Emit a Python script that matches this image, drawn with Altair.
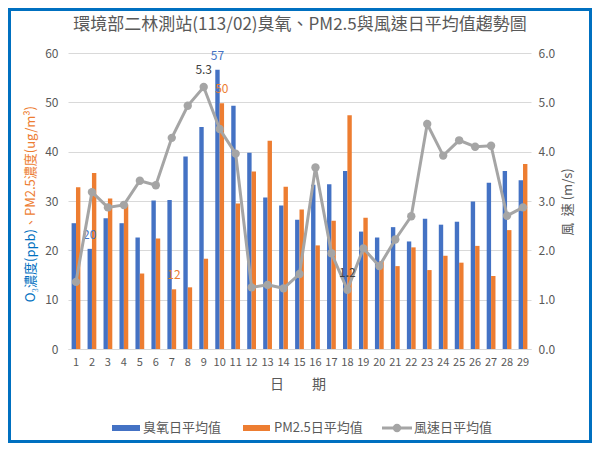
import altair as alt
import pandas as pd

days = list(range(1, 30))
o3 = [25.5, 20.3, 26.5, 25.5, 22.6, 30.1, 30.2, 39.0, 45.0, 56.6, 49.3, 39.8, 30.7, 29.1, 26.2,
      33.3, 33.4, 36.1, 23.8, 22.6, 24.7, 21.8, 26.4, 25.2, 25.8, 29.9, 33.7, 36.1, 34.2]
pm25 = [32.8, 35.7, 30.5, 29.3, 15.3, 22.4, 12.1, 12.5, 18.3, 49.8, 29.5, 36.0, 42.2, 32.9, 28.3,
        21.0, 26.0, 47.4, 26.6, 17.8, 16.8, 20.6, 16.0, 18.9, 17.5, 20.9, 14.8, 24.1, 37.5]
wind = [1.36, 3.18, 2.87, 2.92, 3.41, 3.32, 4.28, 4.93, 5.31, 4.46, 3.96, 1.25, 1.30, 1.23, 1.52,
        3.68, 1.94, 1.20, 2.04, 1.68, 2.22, 2.69, 4.56, 3.92, 4.23, 4.10, 4.12, 2.70, 2.87]

series_names = ["臭氧日平均值", "PM2.5日平均值", "風速日平均值"]
title_text = "環境部二林測站(113/02)臭氧、PM2.5與風速日平均值趨勢圖"
x_title = "日　　期"
y_left_title_a = "O₃濃度(ppb)"
y_left_title_b = "、PM2.5濃度(ug/m³)"
y_right_title = "風\u2002速 (m/s)"

BLUE = "#4472C4"
ORANGE = "#ED7D31"
GRAY = "#A5A5A5"
TXT = "#595959"
FONT = "Noto Sans CJK TC"

bars_df = pd.DataFrame({
    "day": days * 2,
    "series": [series_names[0]] * len(days) + [series_names[1]] * len(days),
    "value": o3 + pm25,
})
wind_df = pd.DataFrame({"day": days, "wind": wind})

# min / max labels
lab_rows = []
for name, arr in [(series_names[0], o3), (series_names[1], pm25)]:
    s = pd.Series(arr, index=days)
    for d in [s.idxmax(), s.idxmin()]:
        lab_rows.append({"day": d, "series": name, "value": s[d], "label": f"{s[d]:.0f}"})
bar_lab_df = pd.DataFrame(lab_rows)
ws = pd.Series(wind, index=days)
wind_lab_df = pd.DataFrame([{"day": d, "wind": ws[d], "label": f"{ws[d]:.1f}"} for d in [ws.idxmax(), ws.idxmin()]])

xenc = alt.X("day:O", scale=alt.Scale(paddingInner=0.45, paddingOuter=0.225),
             axis=alt.Axis(title=None, labelAngle=0, labelFontSize=11, labelColor=TXT, labelFont=FONT,
                           domainColor="#D9D9D9", ticks=False, labelPadding=7, grid=False))
xoff = alt.XOffset("series:N", sort=series_names[:2], scale=alt.Scale(domain=series_names[:2]))
yleft = alt.Y("value:Q", scale=alt.Scale(domain=[0, 60]),
              axis=alt.Axis(title=None, values=[0, 10, 20, 30, 40, 50, 60], domain=False, ticks=False,
                            gridColor="#D9D9D9", labelFontSize=12, labelColor=TXT, labelFont=FONT,
                            labelPadding=10))
color = alt.Color("series:N", scale=alt.Scale(domain=series_names[:2], range=[BLUE, ORANGE]), legend=None)

bars = alt.Chart(bars_df).mark_bar().encode(x=xenc, xOffset=xoff, y=yleft, color=color)
bar_labels = alt.Chart(bar_lab_df).mark_text(dy=-14, fontSize=12, font=FONT).encode(
    x="day:O", xOffset=xoff, y=alt.Y("value:Q"), text="label:N",
    color=alt.Color("series:N", scale=alt.Scale(domain=series_names[:2], range=["#0070C0", ORANGE]), legend=None))
left = alt.layer(bars, bar_labels)

yright = alt.Y("wind:Q", scale=alt.Scale(domain=[0, 6]),
               axis=alt.Axis(title=None, orient="right", values=[0, 1, 2, 3, 4, 5, 6], format=".1f",
                             domain=False, ticks=False, grid=False, labelFontSize=12, labelColor=TXT,
                             labelFont=FONT, labelPadding=7))
xw = alt.X("day:O", bandPosition=0.5)
wline = alt.Chart(wind_df).mark_line(color=GRAY, strokeWidth=3).encode(x=xw, y=yright)
wpts = alt.Chart(wind_df).mark_point(filled=True, size=70, color=GRAY, opacity=1).encode(x=xw, y="wind:Q")
wlab = alt.Chart(wind_lab_df).mark_text(dy=-17, fontSize=12, font=FONT, color="#404040").encode(
    x=xw, y="wind:Q", text="label:N")
right = alt.layer(wline, wpts, wlab)

main = alt.layer(left, right).resolve_scale(y="independent")

def txt(t, x, y, **kw):
    return alt.Chart(pd.DataFrame({"t": [t]})).mark_text(font=FONT, **kw).encode(
        text="t:N", x=alt.value(x), y=alt.value(y))

title = txt(title_text, 232, -28, fontSize=17, color=TXT, baseline="middle", align="center")
xt = txt(x_title, 230, 332, fontSize=14, color=TXT, baseline="middle", align="center")
ylt_a = txt(y_left_title_a, -37, 176, fontSize=13, color="#0070C0", angle=270, align="right", baseline="middle")
ylt_b = txt(y_left_title_b, -37, 176, fontSize=13, color=ORANGE, angle=270, align="left", baseline="middle")
yrt = txt(y_right_title, 500, 149, fontSize=13, color=TXT, angle=270, align="center", baseline="middle")

# legend
leg_sw = pd.DataFrame({"x": [44, 175], "x2": [72, 202], "c": series_names[:2]})
leg_rect = alt.Chart(leg_sw).mark_rect().encode(
    x=alt.X("x:Q", scale=None), x2="x2:Q", y=alt.value(372), y2=alt.value(378),
    color=alt.Color("c:N", scale=alt.Scale(domain=series_names[:2], range=[BLUE, ORANGE]), legend=None))
leg_line = alt.Chart(pd.DataFrame({"a": [0]})).mark_rule(color=GRAY, strokeWidth=3).encode(
    x=alt.value(314), x2=alt.value(344), y=alt.value(375))
leg_pt = alt.Chart(pd.DataFrame({"a": [0]})).mark_point(filled=True, size=70, color=GRAY, opacity=1).encode(
    x=alt.value(329), y=alt.value(375))
leg_t1 = txt(series_names[0], 75, 375, fontSize=13, color=TXT, align="left", baseline="middle")
leg_t2 = txt(series_names[1], 206, 375, fontSize=13, color=TXT, align="left", baseline="middle")
leg_t3 = txt(series_names[2], 346, 375, fontSize=13, color=TXT, align="left", baseline="middle")

border = alt.Chart(pd.DataFrame({"a": [0]})).mark_rect(fill=None, stroke="#0070C0", strokeWidth=3).encode(
    x=alt.value(-58.5), x2=alt.value(522.5), y=alt.value(-43.5), y2=alt.value(388.5))

chart = alt.layer(
    main, title, xt, ylt_a, ylt_b, yrt, leg_rect, leg_line, leg_pt, leg_t1, leg_t2, leg_t3, border
).properties(
    width=463, height=296,
    autosize=alt.AutoSizeParams(type="none"),
    padding={"left": 60, "top": 45, "right": 61, "bottom": 94},
    background="white",
).configure_view(stroke=None)

chart.save("out.html", embed_options={"renderer": "svg", "actions": False})
